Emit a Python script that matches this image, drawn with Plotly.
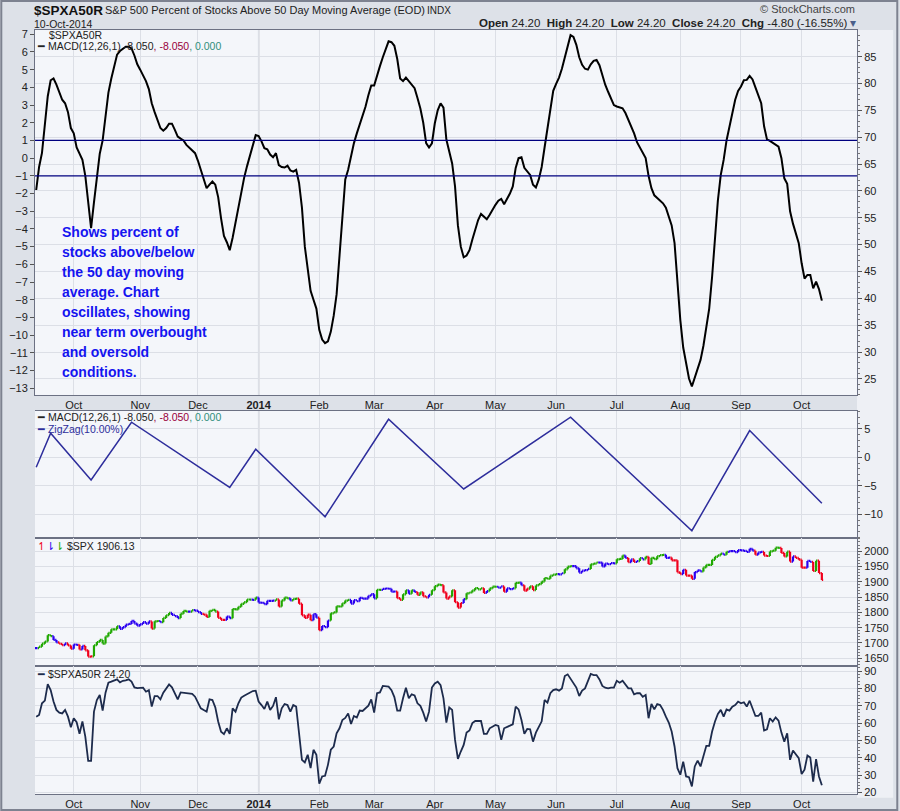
'''
    StockCharts style chart of $SPXA50R with its MACD, ZigZag, $SPX and the raw line.
'''
import pandas as pd
import plotly.graph_objects as go

# trading calendar (weekdays without NYSE holidays)
holidays = ['2013-11-28', '2013-12-25', '2014-01-01', '2014-01-20', '2014-02-17',
            '2014-04-18', '2014-05-26', '2014-07-04', '2014-09-01']
days = pd.bdate_range('2013-09-12', '2014-10-10', freq='C', holidays=holidays)

# MACD(12,26,1) of $SPXA50R, one value per trading day (month by month)
macd_line = [
    -1.8, -0.5, 0.3, 1.8, 3.5, 4.4, 4.5, 4.15, 3.7, 3.3, 3.1, 2.6, 1.7,
    1.4, 0.6, 0.2, -0.1, -1.0, -2.6, -3.95, -2.5, -1.0, 0.25, 1.0, 2.5, 3.7, 4.5, 5.25, 5.85,
    6.05, 6.2, 6.3, 6.3, 6.2, 5.8, 5.3,
    5.0, 4.7, 4.35, 3.9, 3.1, 2.6, 2.1, 1.7, 1.55, 1.7, 1.95, 1.95, 1.6, 1.22, 1.1, 1.0,
    0.75, 0.6, 0.45, 0.28,
    -0.15, -0.7, -1.2, -1.7, -1.5, -1.32, -1.5, -2.2, -3.4, -4.4, -4.75, -5.2, -4.5, -3.6,
    -2.8, -1.8, -1.1, -0.45, 0.18, 0.75, 1.3,
    1.25, 0.95, 0.56, 0.5, 0.2, 0.05, 0.28, -0.4, -0.5, -0.53, -0.42, -0.7, -0.76, -0.66,
    -1.4, -2.8, -5.0, -6.3, -7.5, -8.0, -8.5,
    -9.7, -10.25, -10.45, -10.35, -9.8, -8.9, -7.7, -5.4, -3.1, -1.2, -0.66, 0.15, 0.85,
    1.4, 1.9, 2.4, 2.9, 3.55, 4.1,
    4.1, 4.7, 5.2, 5.7, 6.2, 6.6, 6.55, 6.35, 5.6, 4.5, 4.35, 4.55, 4.35, 4.15, 3.95, 3.4,
    2.8, 2.0, 0.85, 0.6, 0.84,
    1.97, 2.7, 3.1, 2.85, 1.05, 0.3, -0.3, -1.6, -3.8, -5.0, -5.6, -5.5, -5.2, -4.6, -4.0,
    -3.5, -3.15, -3.3, -3.45, -3.2, -2.9,
    -2.64, -2.4, -2.3, -2.6, -2.3, -2.0, -1.6, -0.55, 0.0, 0.05, -0.55, -0.75, -0.95, -1.5,
    -1.66, -1.2, -0.5, 0.6, 1.7, 2.8, 3.8,
    4.2, 4.55, 5.05, 5.7, 6.4, 6.95, 6.85, 6.4, 5.7, 5.27, 5.05, 5.0, 5.3, 5.5, 5.55, 5.25,
    4.7, 4.15, 3.75, 3.4, 3.0,
    2.92, 2.88, 2.82, 2.55, 2.2, 1.85, 1.4, 0.9, 0.6, 0.37, 0.0, -1.0, -1.7, -2.1, -2.25,
    -2.4, -2.55, -2.8, -3.3, -3.8, -4.8, -6.9,
    -9.15, -10.7, -11.7, -12.45, -12.9, -12.4, -11.9, -11.4, -10.6, -9.5, -8.5, -6.7, -4.3,
    -2.4, -0.95, -0.1, 1.0, 1.8, 2.55, 3.3, 3.8,
    4.05, 4.4, 4.42, 4.65, 4.45, 4.0, 3.6, 3.1, 1.8, 1.06, 0.97, 0.85, 0.78, 0.65, 0.0,
    -1.14, -1.45, -3.0, -3.7, -4.3, -4.8,
    -5.94, -6.8, -6.6, -6.6, -7.36, -6.98, -7.4, -8.05,
]

# $SPXA50R close, one value per trading day
spxa50r = [
    63.7, 64.7, 71.4, 73.0, 82.5, 79.0, 72.4, 67.6, 66.0, 65.6, 67.6, 63.7, 57.6,
    62.8, 60.5, 53.8, 60.9, 52.2, 38.2, 38.2, 66.6, 73.3, 76.2, 67.2, 77.5, 83.3, 83.9,
    84.4, 85.2, 83.5, 84.4, 84.6, 85.2, 83.9, 80.6, 80.2,
    80.4, 80.4, 78.1, 79.0, 69.5, 75.6, 75.6, 73.7, 77.5, 80.0, 82.3, 80.6, 77.2, 73.7,
    77.7, 77.5, 77.2, 77.0, 76.8, 75.2,
    71.8, 68.5, 67.5, 66.6, 73.7, 73.3, 69.1, 60.9, 55.0, 53.6, 57.0, 53.8, 68.5, 66.6,
    71.4, 74.7, 75.8, 76.6, 77.5, 78.5, 78.7,
    72.4, 70.4, 68.1, 72.4, 67.6, 69.9, 74.9, 62.2, 68.5, 71.0, 70.4, 66.6, 70.4, 69.5,
    53.2, 38.8, 37.3, 41.7, 34.0, 44.6, 41.7,
    25.0, 29.2, 29.6, 35.9, 44.6, 46.5, 54.1, 57.0, 61.8, 63.0, 65.6, 59.5, 64.1, 63.2,
    67.2, 67.0, 68.5, 70.0, 73.7,
    66.0, 77.2, 77.7, 81.4, 81.4, 81.0, 79.0, 75.0, 67.2, 67.2, 74.3, 80.4, 74.3, 76.6,
    76.0, 71.4, 69.9, 66.0, 60.9, 66.6, 80.5,
    82.9, 83.9, 81.9, 74.3, 60.3, 69.0, 67.6, 50.3, 39.4, 43.6, 47.4, 54.5, 55.7, 60.0,
    61.2, 61.2, 61.2, 53.8, 53.8, 57.0, 58.0,
    58.9, 58.4, 50.3, 57.0, 58.0, 58.5, 59.3, 69.5, 67.9, 61.8, 53.8, 56.6, 56.4, 49.3,
    54.5, 58.0, 61.0, 73.3, 71.8, 77.2, 79.0,
    79.5, 78.7, 80.0, 87.1, 88.1, 85.8, 83.0, 80.5, 75.6, 78.7, 80.0, 84.0, 88.3, 87.7,
    87.7, 85.2, 81.4, 80.4, 80.0, 80.4, 80.4,
    84.4, 83.3, 84.4, 81.9, 80.0, 80.0, 76.6, 77.2, 77.2, 75.2, 76.2, 62.8, 71.0, 67.9,
    71.0, 70.4, 67.6, 63.7, 60.3, 55.1, 46.5, 34.0,
    30.2, 37.8, 29.2, 28.8, 23.5, 35.0, 38.4, 35.0, 40.7, 46.9, 46.9, 55.1, 60.9, 65.3,
    67.6, 63.7, 67.9, 67.2, 69.5, 70.4, 72.4,
    71.4, 72.0, 69.5, 72.9, 68.5, 64.1, 64.1, 66.0, 55.7, 56.4, 62.8, 60.9, 63.3, 61.4,
    54.5, 49.3, 54.1, 38.8, 44.2, 42.1, 39.8,
    30.6, 33.1, 41.3, 40.1, 26.3, 39.2, 29.2, 24.2,
]

# $SPX close, one value per trading day
spx_close = [
    1683.42, 1687.99, 1697.60, 1704.76, 1725.52, 1722.34, 1709.91, 1701.84, 1697.42,
    1692.77, 1698.67, 1691.75, 1681.55,
    1695.00, 1693.87, 1678.66, 1690.50, 1676.12, 1655.45, 1656.40, 1692.56, 1703.20,
    1710.14, 1698.06, 1721.54, 1733.15, 1744.50, 1744.66, 1754.67, 1746.38, 1752.07,
    1759.77, 1762.11, 1771.95, 1763.31, 1756.54,
    1761.64, 1767.93, 1762.97, 1770.49, 1747.15, 1770.61, 1771.89, 1767.69, 1782.00,
    1790.62, 1798.18, 1791.53, 1787.87, 1781.37, 1795.85, 1804.76, 1802.48, 1802.75,
    1807.23, 1805.81,
    1800.90, 1795.15, 1792.81, 1785.03, 1805.09, 1808.37, 1802.62, 1782.22, 1775.50,
    1775.32, 1786.54, 1781.00, 1810.65, 1809.60, 1818.32, 1827.99, 1833.32, 1842.02,
    1841.40, 1841.07, 1848.36,
    1831.98, 1831.37, 1826.77, 1837.88, 1837.49, 1838.13, 1842.37, 1819.20, 1838.88,
    1848.38, 1845.89, 1838.70, 1843.80, 1844.86, 1828.46, 1790.29, 1781.56, 1792.50,
    1774.20, 1794.19, 1782.59,
    1741.89, 1755.20, 1751.64, 1773.43, 1797.02, 1799.84, 1819.75, 1819.26, 1829.83,
    1838.63, 1840.76, 1828.75, 1839.78, 1836.25, 1847.61, 1845.12, 1845.16, 1854.29,
    1859.45,
    1845.73, 1873.91, 1873.81, 1877.03, 1878.04, 1877.17, 1867.63, 1868.20, 1846.34,
    1841.13, 1858.83, 1872.25, 1860.77, 1872.01, 1866.52, 1857.44, 1865.62, 1852.56,
    1849.04, 1857.62, 1872.34,
    1885.52, 1890.90, 1888.77, 1865.09, 1845.04, 1851.96, 1872.18, 1833.08, 1815.69,
    1830.61, 1842.98, 1862.31, 1864.85, 1871.89, 1879.55, 1875.39, 1878.61, 1863.40,
    1869.43, 1878.33, 1883.95,
    1883.68, 1881.14, 1884.66, 1867.72, 1878.21, 1875.63, 1878.48, 1896.65, 1897.45,
    1888.53, 1870.85, 1877.86, 1885.08, 1872.83, 1888.03, 1892.49, 1900.53, 1911.91,
    1909.78, 1920.03, 1923.57,
    1924.97, 1924.24, 1927.88, 1940.46, 1949.44, 1951.27, 1950.79, 1943.89, 1930.11,
    1936.16, 1937.78, 1941.99, 1956.98, 1959.48, 1962.87, 1962.61, 1949.98, 1959.53,
    1957.22, 1960.96, 1960.23,
    1973.32, 1974.62, 1985.44, 1977.65, 1963.71, 1972.83, 1964.68, 1967.57, 1977.10,
    1973.28, 1981.57, 1958.12, 1978.22, 1973.63, 1983.53, 1987.01, 1987.98, 1978.34,
    1978.91, 1969.95, 1970.07, 1930.67,
    1925.15, 1938.99, 1920.21, 1920.24, 1909.57, 1931.59, 1936.92, 1933.75, 1946.72,
    1955.18, 1955.06, 1971.74, 1981.60, 1986.51, 1992.37, 1988.40, 1997.92, 2000.02,
    2000.12, 1996.74, 2003.37,
    2002.28, 2000.72, 1997.65, 2007.71, 2001.54, 1988.44, 1995.69, 1997.45, 1985.54,
    1984.13, 1998.98, 2001.57, 2011.36, 2010.40, 1994.29, 1982.77, 1998.30, 1965.99,
    1982.85, 1977.80, 1972.29,
    1946.16, 1946.17, 1967.90, 1964.82, 1935.10, 1968.89, 1928.21, 1906.13,
]

# ZigZag(10%) pivots of the MACD line
zigzag_dates = ['2013-09-12', '2013-09-19', '2013-10-09', '2013-10-29', '2013-12-17',
                '2013-12-31', '2014-02-05', '2014-03-10', '2014-04-15', '2014-06-09',
                '2014-08-07', '2014-09-05', '2014-10-10']
zigzag_values = [-1.74, 4.24, -3.97, 6.18, -5.26, 1.43, -10.42, 6.7, -5.55, 7.05,
                 -12.88, 4.71, -8.05]

signal_levels = [1, -1]

month_ticks = ['2013-10-01', '2013-11-01', '2013-12-02', '2014-01-02', '2014-02-03',
               '2014-03-03', '2014-04-01', '2014-05-01', '2014-06-02', '2014-07-01',
               '2014-08-01', '2014-09-02', '2014-10-01']
month_labels = ['Oct', 'Nov', 'Dec', '<b>2014</b>', 'Feb', 'Mar', 'Apr', 'May', 'Jun',
                'Jul', 'Aug', 'Sep', 'Oct']
year_tick = '2014-01-02'

note_lines = ['Shows percent of', 'stocks above/below', 'the 50 day moving',
              'average. Chart', 'oscillates, showing', 'near term overbought',
              'and oversold', 'conditions.']

n = min(len(days), len(macd_line), len(spxa50r), len(spx_close))
dates = days[:n]


def ema(values, span):
    k = 2.0 / (span + 1)
    out = [values[0]]
    for v in values[1:]:
        out.append(out[-1] + k * (v - out[-1]))
    return out


# Elder impulse colouring of the price bars
closes = spx_close[:n]
ema13 = ema(closes, 13)
macd_spx = [a - b for a, b in zip(ema(closes, 12), ema(closes, 26))]
signal = ema(macd_spx, 9)
hist = [a - b for a, b in zip(macd_spx, signal)]
bar_colors = ['blue']
for i in range(1, n):
    up = ema13[i] > ema13[i - 1] and hist[i] > hist[i - 1]
    down = ema13[i] < ema13[i - 1] and hist[i] < hist[i - 1]
    bar_colors.append('green' if up else ('red' if down else 'blue'))

opens = [closes[0]] + closes[:-1]
highs = [max(o, c) for o, c in zip(opens, closes)]
lows = [min(o, c) for o, c in zip(opens, closes)]

GRID = '#dcdfe6'
FRAME = '#6c7183'
FONT = 'Liberation Sans, Arial, sans-serif'
palette = {'green': '#1fa800', 'red': '#f0001c', 'blue': '#2a00f0'}

fig = go.Figure()

fig.add_trace(go.Scatter(x=dates, y=macd_line[:n], mode='lines', xaxis='x', yaxis='y',
                         line=dict(color='#000000', width=2), hoverinfo='skip'))
fig.add_trace(go.Scatter(x=dates, y=spxa50r[:n], mode='lines', xaxis='x', yaxis='y2',
                         opacity=0, line=dict(width=1), hoverinfo='skip'))
fig.add_trace(go.Scatter(x=zigzag_dates, y=zigzag_values, mode='lines', xaxis='x2',
                         yaxis='y3', line=dict(color='#2e2e9c', width=1.5)))

for name, col in palette.items():
    idx = [i for i in range(n) if bar_colors[i] == name]
    fig.add_trace(go.Ohlc(
        x=[dates[i] for i in idx], open=[opens[i] for i in idx],
        high=[highs[i] for i in idx], low=[lows[i] for i in idx],
        close=[closes[i] for i in idx], xaxis='x3', yaxis='y4', tickwidth=0.45,
        increasing=dict(line=dict(color=col, width=2.2)),
        decreasing=dict(line=dict(color=col, width=2.2)), hoverinfo='skip'))

fig.add_trace(go.Scatter(x=dates, y=spxa50r[:n], mode='lines', xaxis='x4', yaxis='y5',
                         line=dict(color='#1d2b4c', width=1.8)))

breaks = [dict(bounds=['sat', 'mon']), dict(values=holidays)]
x_range = ['2013-09-11 14:00', '2014-10-28 04:00']


def xaxis(anchor, labels):
    return dict(domain=[0, 1], anchor=anchor, range=x_range, rangebreaks=breaks,
                tickmode='array', tickvals=month_ticks, ticktext=month_labels,
                showticklabels=labels, showgrid=True, gridcolor=GRID, zeroline=False,
                showline=True, mirror=True, linecolor=FRAME, linewidth=1, ticks='',
                automargin=False, tickfont=dict(size=11, color='#222'),
                rangeslider=dict(visible=False))


def yaxis(domain, anchor, rng, dtick, side='right', grid=True, minor=None):
    ax = dict(domain=domain, anchor=anchor, range=rng, side=side, tickmode='linear',
              tick0=0, dtick=dtick, showgrid=grid, gridcolor=GRID, zeroline=False,
              showline=True, linecolor=FRAME, linewidth=1, ticks='outside', ticklen=4,
              tickcolor='#555', automargin=False, tickfont=dict(size=11, color='#222'))
    if minor:
        ax['minor'] = dict(dtick=minor, ticks='outside', ticklen=2, tickcolor='#777',
                           showgrid=False)
    return ax


fig.update_layout(
    template='none',
    width=900, height=811,
    margin=dict(l=35, r=43, t=30, b=17),
    paper_bgcolor='#dde1e8', plot_bgcolor='#f4f6fa',
    font=dict(family=FONT, size=11, color='#222'),
    showlegend=False,
    xaxis=xaxis('y', True),
    xaxis2=xaxis('y3', False),
    xaxis3=xaxis('y4', False),
    xaxis4=xaxis('y5', True),
    yaxis=yaxis([0.5223, 1], 'x', [-13.38, 7.24], 1, side='left', grid=False),
    yaxis2=dict(yaxis([0.5223, 1], 'x', [22.0, 89.97], 5, minor=1), overlaying='y'),
    yaxis3=yaxis([0.3355, 0.5017], 'x2', [-14.1, 8.2], 5, minor=1),
    yaxis4=yaxis([0.1675, 0.3355], 'x3', [1624.7, 2044], 50, minor=10),
    yaxis5=yaxis([0, 0.1675], 'x4', [19.1, 92.9], 10, minor=2),
)

# light strip behind the right-hand axes and the outer frame
fig.add_shape(type='rect', xref='paper', yref='paper', x0=1.0, x1=1.044, y0=-0.005,
              y1=1.0, fillcolor='#eef0f5', line_width=0, layer='below')
fig.add_shape(type='rect', xref='paper', yref='paper', x0=-0.041, x1=1.049, y0=-0.021,
              y1=1.038, line=dict(color='#7d8290', width=2), layer='above')

for lvl in signal_levels:
    fig.add_shape(type='line', xref='x', yref='y', x0=x_range[0], x1=x_range[1],
                  y0=lvl, y1=lvl, line=dict(color='#00007f', width=1.2), layer='above')

for xr, yr in [('x', 'y'), ('x2', 'y3'), ('x3', 'y4'), ('x4', 'y5')]:
    fig.add_shape(type='line', xref=xr, yref=yr + ' domain', x0=year_tick, x1=year_tick,
                  y0=0, y1=1, line=dict(color='#a9adb6', width=1.3), layer='below')


def xp(px):
    return (px - 35) / 822


def yp(py):
    return (794 - py) / 764


def label(text, px, py, size=11, color='#222', anchor='left', family=FONT):
    fig.add_annotation(text=text, x=xp(px), y=yp(py), xref='paper', yref='paper',
                       xanchor=anchor, yanchor='middle', showarrow=False, borderpad=0,
                       font=dict(size=size, color=color, family=family))


label('<b>$SPXA50R</b>', 33, 10, size=13.5, color='#111')
label('S&P 500 Percent of Stocks Above 50 Day Moving Average (EOD)', 104, 10, size=11)
label('INDX', 426, 10, size=10)
label('10-Oct-2014', 33, 24, size=10.5)
label('© StockCharts.com', 856, 9, size=11, color='#444', anchor='right')
label('<b>Open</b> 24.20  <b>High</b> 24.20  <b>Low</b> 24.20  <b>Close</b> 24.20  '
      '<b>Chg</b> -4.80 (-16.55%) <span style="color:#4a5f8a">▾</span>',
      857, 23, size=11.5, anchor='right')

macd_text = ('━ MACD(12,26,1) -8.050<span style="color:#99003a">, -8.050</span>'
             '<span style="color:#2f8f7a">, 0.000</span>')
label('$SPXA50R', 48, 35, size=10.5)
label(macd_text, 36, 46, size=10.5)
label(macd_text, 36, 417, size=10.5)
label('<span style="color:#2e2e9c">━ ZigZag(10.00%)</span>', 36, 429, size=10.5)
label('<span style="color:#f0001c">↿</span><span style="color:#2a00f0">⇂</span>'
      '<span style="color:#1fa800">⇂</span> $SPX 1906.13', 36, 546, size=10.5)
label('<span style="color:#1d2b4c">━</span> $SPXA50R 24.20', 36, 674, size=10.5)

for i, line in enumerate(note_lines):
    label('<b>' + line + '</b>', 61, 232 + 20 * i, size=14, color='#1414f0')

# the page's default body margin would push the figure 8px down and right
fig.write_html('out.html', config={'displayModeBar': False},
               post_script="document.body.style.margin='0';")
